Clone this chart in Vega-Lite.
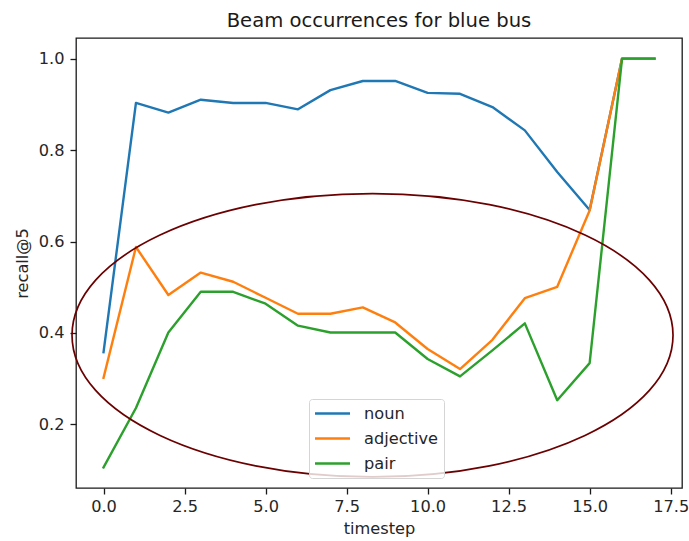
{
  "$schema": "https://vega.github.io/schema/vega-lite/v6.json",
  "width": 606,
  "height": 450,
  "autosize": {"type": "none"},
  "padding": {"left": 76, "top": 38, "right": 7, "bottom": 53},
  "background": "white",
  "title": {
    "text": "Beam occurrences for blue bus",
    "font": "DejaVu Sans",
    "fontSize": 19.6,
    "fontWeight": "normal",
    "color": "#1a1a1a",
    "anchor": "middle",
    "offset": 6
  },
  "config": {
    "view": {"stroke": "#1a1a1a", "strokeWidth": 1.3},
    "axis": {
      "domain": false,
      "grid": false,
      "ticks": true,
      "tickColor": "#1a1a1a",
      "tickWidth": 1.3,
      "tickSize": 6,
      "labelFont": "DejaVu Sans",
      "labelFontSize": 16.2,
      "labelColor": "#262626",
      "titleFont": "DejaVu Sans",
      "titleFontSize": 16.2,
      "titleFontWeight": "normal",
      "titleColor": "#262626"
    }
  },
  "datasets": {
    "recall": [
      {"timestep": 0, "series": "noun", "recall": 0.358},
      {"timestep": 1, "series": "noun", "recall": 0.903},
      {"timestep": 2, "series": "noun", "recall": 0.882},
      {"timestep": 3, "series": "noun", "recall": 0.910},
      {"timestep": 4, "series": "noun", "recall": 0.903},
      {"timestep": 5, "series": "noun", "recall": 0.903},
      {"timestep": 6, "series": "noun", "recall": 0.889},
      {"timestep": 7, "series": "noun", "recall": 0.931},
      {"timestep": 8, "series": "noun", "recall": 0.951},
      {"timestep": 9, "series": "noun", "recall": 0.951},
      {"timestep": 10, "series": "noun", "recall": 0.925},
      {"timestep": 11, "series": "noun", "recall": 0.923},
      {"timestep": 12, "series": "noun", "recall": 0.894},
      {"timestep": 13, "series": "noun", "recall": 0.843},
      {"timestep": 14, "series": "noun", "recall": 0.752},
      {"timestep": 15, "series": "noun", "recall": 0.669},
      {"timestep": 16, "series": "noun", "recall": 1.0},
      {"timestep": 17, "series": "noun", "recall": 1.0},
      {"timestep": 0, "series": "adjective", "recall": 0.302},
      {"timestep": 1, "series": "adjective", "recall": 0.588},
      {"timestep": 2, "series": "adjective", "recall": 0.483},
      {"timestep": 3, "series": "adjective", "recall": 0.532},
      {"timestep": 4, "series": "adjective", "recall": 0.512},
      {"timestep": 5, "series": "adjective", "recall": 0.477},
      {"timestep": 6, "series": "adjective", "recall": 0.442},
      {"timestep": 7, "series": "adjective", "recall": 0.442},
      {"timestep": 8, "series": "adjective", "recall": 0.456},
      {"timestep": 9, "series": "adjective", "recall": 0.423},
      {"timestep": 10, "series": "adjective", "recall": 0.365},
      {"timestep": 11, "series": "adjective", "recall": 0.321},
      {"timestep": 12, "series": "adjective", "recall": 0.385},
      {"timestep": 13, "series": "adjective", "recall": 0.476},
      {"timestep": 14, "series": "adjective", "recall": 0.501},
      {"timestep": 15, "series": "adjective", "recall": 0.668},
      {"timestep": 16, "series": "adjective", "recall": 1.0},
      {"timestep": 17, "series": "adjective", "recall": 1.0},
      {"timestep": 0, "series": "pair", "recall": 0.106},
      {"timestep": 1, "series": "pair", "recall": 0.236},
      {"timestep": 2, "series": "pair", "recall": 0.401},
      {"timestep": 3, "series": "pair", "recall": 0.490},
      {"timestep": 4, "series": "pair", "recall": 0.490},
      {"timestep": 5, "series": "pair", "recall": 0.464},
      {"timestep": 6, "series": "pair", "recall": 0.416},
      {"timestep": 7, "series": "pair", "recall": 0.401},
      {"timestep": 8, "series": "pair", "recall": 0.401},
      {"timestep": 9, "series": "pair", "recall": 0.401},
      {"timestep": 10, "series": "pair", "recall": 0.343},
      {"timestep": 11, "series": "pair", "recall": 0.305},
      {"timestep": 12, "series": "pair", "recall": 0.362},
      {"timestep": 13, "series": "pair", "recall": 0.421},
      {"timestep": 14, "series": "pair", "recall": 0.253},
      {"timestep": 15, "series": "pair", "recall": 0.334},
      {"timestep": 16, "series": "pair", "recall": 1.0},
      {"timestep": 17, "series": "pair", "recall": 1.0}
    ],
    "highlight": [
      {"timestep": 8.3, "recall": 0.395}
    ]
  },
  "layer": [
    {
      "data": {"name": "recall"},
      "mark": {"type": "line", "strokeWidth": 2.4, "strokeCap": "square", "strokeJoin": "round"},
      "encoding": {
        "x": {
          "field": "timestep",
          "type": "quantitative",
          "scale": {"domain": [-0.85, 17.85], "nice": false, "zero": false},
          "axis": {"values": [0, 2.5, 5, 7.5, 10, 12.5, 15, 17.5], "format": ".1f", "title": "timestep", "labelPadding": 4, "titlePadding": 6}
        },
        "y": {
          "field": "recall",
          "type": "quantitative",
          "scale": {"domain": [0.061, 1.045], "nice": false, "zero": false},
          "axis": {"values": [0.2, 0.4, 0.6, 0.8, 1.0], "format": ".1f", "title": "recall@5", "labelPadding": 6, "titlePadding": 8}
        },
        "color": {
          "field": "series",
          "type": "nominal",
          "scale": {"domain": ["noun", "adjective", "pair"], "range": ["#1f77b4", "#ff7f0e", "#2ca02c"]},
          "legend": {
            "title": null,
            "orient": "none",
            "legendX": 233,
            "legendY": 361,
            "symbolType": "M -2.5 0 L 2.5 0",
            "symbolSize": 196,
            "symbolOffset": 9,
            "symbolStrokeWidth": 2.5,
            "labelFont": "DejaVu Sans",
            "labelFontSize": 16.2,
            "labelColor": "#262626",
            "labelOffset": 23,
            "rowPadding": 8,
            "padding": 6,
            "fillColor": "rgba(255,255,255,0.8)",
            "strokeColor": "#d5d5d5",
            "cornerRadius": 3
          }
        },
        "order": {"field": "timestep", "type": "quantitative"}
      }
    },
    {
      "data": {"name": "highlight"},
      "mark": {
        "type": "point",
        "shape": "M -1 0 C -1 -0.2604 -0.5523 -0.4715 0 -0.4715 C 0.5523 -0.4715 1 -0.2604 1 0 C 1 0.2604 0.5523 0.4715 0 0.4715 C -0.5523 0.4715 -1 0.2604 -1 0 Z",
        "size": 361201,
        "filled": false,
        "stroke": "#6b0000",
        "strokeWidth": 1.7,
        "opacity": 1
      },
      "encoding": {
        "x": {"field": "timestep", "type": "quantitative"},
        "y": {"field": "recall", "type": "quantitative"}
      }
    }
  ]
}
